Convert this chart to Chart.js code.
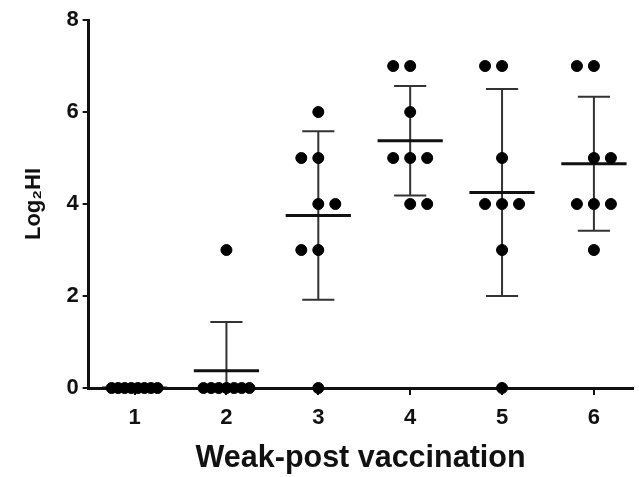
<!DOCTYPE html>
<html>
<head>
<meta charset="utf-8">
<script src="https://cdn.jsdelivr.net/npm/chart.js@4/dist/chart.umd.min.js"></script>
<style>
  html, body { margin: 0; padding: 0; background: #fff; }
  #wrap { width: 639px; height: 477px; }
</style>
</head>
<body>
<div id="wrap"><canvas id="grafica" width="639" height="477"></canvas></div>
<script>
// semanas y valores log2 HI por animal
const weeks = [1, 2, 3, 4, 5, 6];
const week1 = [0, 0, 0, 0, 0, 0, 0, 0];
const week2 = [0, 0, 0, 0, 0, 0, 0, 3];
const week3 = [6, 5, 5, 4, 4, 3, 3, 0];
const week4 = [7, 7, 6, 5, 5, 5, 4, 4];
const week5 = [7, 7, 5, 4, 4, 4, 3, 0];
const week6 = [7, 7, 5, 5, 4, 4, 4, 3];
const yTicks = [0, 2, 4, 6, 8];

const groups = [week1, week2, week3, week4, week5, week6];
const FONT = "'Liberation Sans', Arial, sans-serif";
const INK = '#111';

// reparte los puntos repetidos en horizontal (estilo scatter de GraphPad)
function spread(vals, x) {
  const counts = {};
  vals.forEach(v => counts[v] = (counts[v] || 0) + 1);
  const levels = Object.keys(counts).map(Number).sort((a, b) => b - a);
  const pts = [];
  let flip = -1;
  levels.forEach(v => {
    const n = counts[v];
    const step = n > 1 ? Math.min(0.185, 0.5 / (n - 1)) : 0;
    let shift = 0;
    if (n % 2 === 0 && n <= 5) { shift = flip * step / 2; flip = -flip; }
    for (let k = 0; k < n; k++) {
      pts.push({ x: x + (k - (n - 1) / 2) * step + shift, y: v });
    }
  });
  return pts;
}

function stats(vals) {
  const m = vals.reduce((a, b) => a + b, 0) / vals.length;
  const sd = Math.sqrt(vals.reduce((a, b) => a + (b - m) * (b - m), 0) / (vals.length - 1));
  return { m, sd };
}

const points = [];
groups.forEach((g, i) => points.push(...spread(g, weeks[i])));

// media +/- DE dibujadas con las escalas del grafico
const meanSd = {
  id: 'meanSd',
  beforeDatasetsDraw(chart) {
    const { ctx, scales: { x, y } } = chart;
    ctx.save();
    groups.forEach((g, i) => {
      const { m, sd } = stats(g);
      const cx = x.getPixelForValue(weeks[i]);
      if (sd > 0) {
        const top = y.getPixelForValue(m + sd);
        const bot = y.getPixelForValue(Math.max(m - sd, 0));
        const cap = x.getPixelForValue(weeks[i] + 0.175) - cx;
        ctx.strokeStyle = '#333';
        ctx.lineWidth = 2;
        ctx.beginPath();
        ctx.moveTo(cx, top); ctx.lineTo(cx, bot);
        ctx.moveTo(cx - cap, top); ctx.lineTo(cx + cap, top);
        if (m - sd > 0) { ctx.moveTo(cx - cap, bot); ctx.lineTo(cx + cap, bot); }
        ctx.stroke();
      }
      const half = x.getPixelForValue(weeks[i] + 0.355) - cx;
      const my = y.getPixelForValue(m);
      ctx.strokeStyle = INK;
      ctx.lineWidth = 3;
      ctx.beginPath();
      ctx.moveTo(cx - half, my); ctx.lineTo(cx + half, my);
      ctx.stroke();
    });
    ctx.restore();
  }
};

const ctx = document.getElementById('grafica').getContext('2d');
new Chart(ctx, {
  type: 'scatter',
  data: {
    datasets: [{
      data: points,
      backgroundColor: '#000',
      borderColor: '#000',
      pointRadius: 5.5,
      pointHoverRadius: 5.5,
      clip: false
    }]
  },
  options: {
    responsive: false,
    animation: false,
    events: [],
    layout: { padding: { top: 20, right: 0, left: 21, bottom: 0 } },
    plugins: { legend: { display: false }, tooltip: { enabled: false } },
    scales: {
      x: {
        type: 'linear',
        min: 0.5,
        max: 6.42,
        afterBuildTicks: s => { s.ticks = weeks.map(v => ({ value: v })); },
        border: { display: true, color: INK, width: 3 },
        grid: { drawOnChartArea: false, drawTicks: true, tickLength: 7, color: INK, lineWidth: 2 },
        ticks: { color: INK, font: { family: FONT, size: 22, weight: 'bold' }, padding: 10, callback: v => String(v) },
        title: { display: true, text: 'Weak-post vaccination', color: INK, font: { family: FONT, size: 30.5, weight: 'bold' }, padding: { top: -1, bottom: 0 } }
      },
      y: {
        min: 0,
        max: 8,
        afterBuildTicks: s => { s.ticks = yTicks.map(v => ({ value: v })); },
        border: { display: true, color: INK, width: 3 },
        grid: { drawOnChartArea: false, drawTicks: true, tickLength: 6, color: INK, lineWidth: 2 },
        ticks: { color: INK, font: { family: FONT, size: 22, weight: 'bold' }, padding: 4 },
        title: { display: true, text: 'Log₂HI', color: INK, font: { family: FONT, size: 22, weight: 'bold' }, padding: { top: 0, bottom: 15 } }
      }
    }
  },
  plugins: [meanSd]
});
</script>
</body>
</html>
